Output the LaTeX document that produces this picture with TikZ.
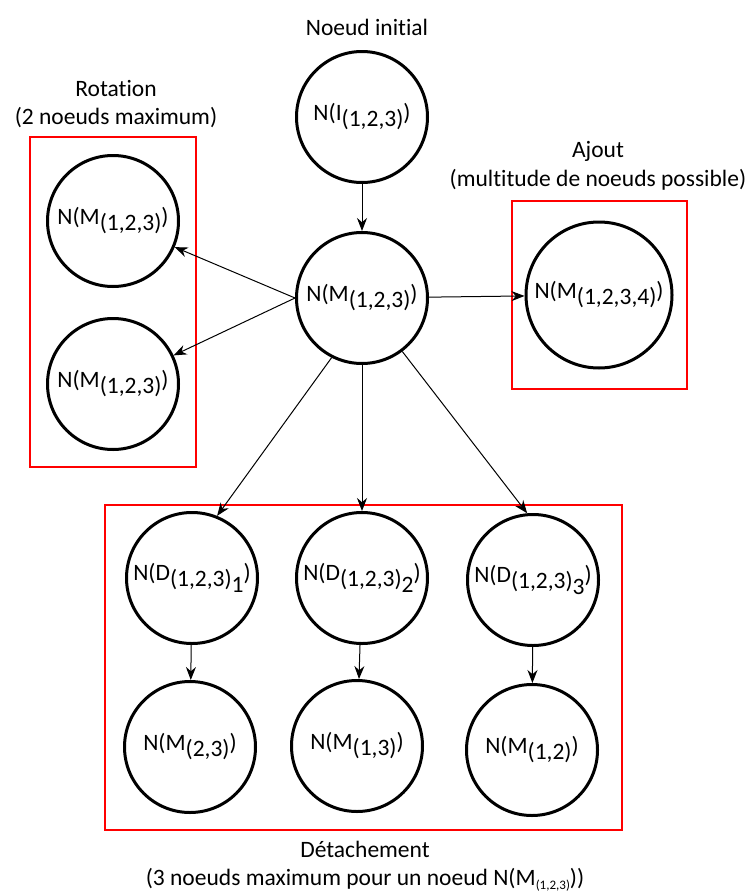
\documentclass[tikz,border=0pt]{standalone}
\usepackage{fontspec}
\setmainfont{Carlito}[Ligatures=NoCommon]
\usetikzlibrary{
  arrows.meta,
  positioning
}
\definecolor{boxred}{RGB}{255,0,0}
\newcommand{\lo}[1]{\raisebox{-6pt}{#1}}
\newcommand{\tinysub}[1]{\raisebox{-4pt}{\fontsize{13}{14}\selectfont #1}}

\begin{document}
\begin{tikzpicture}[x=1pt, y=-1pt,
  etat/.style={circle, draw, line width=3pt, minimum size=131pt, inner sep=0pt,
    font=\fontsize{23.5}{26}\selectfont},
  groupe/.style={draw=boxred, line width=1.8pt},
  lien/.style={-{Stealth[length=13pt, width=10pt]}, line width=1pt},
  legende/.style={font=\fontsize{23.5}{28.5}\selectfont, align=center}]
  \useasboundingbox (0,0) rectangle (750,894);
  % groupes
  \draw[groupe] (30,137) rectangle (196,467);
  \draw[groupe] (512,201) rectangle (687,389);
  \draw[groupe] (105,505) rectangle (622,830);
  % etats
  \node[etat] (init) at (362,117) {N(I\lo{(1,2,3)})};
  \node[etat] (cur) at (362,298) {N(M\lo{(1,2,3)})};
  \node[etat] (rot1) at (113,221) {N(M\lo{(1,2,3)})};
  \node[etat] (rot2) at (113,384) {N(M\lo{(1,2,3)})};
  \node[etat, minimum size=146pt] (ajout) at (599,295) {N(M\lo{(1,2,3,4)})};
  \node[etat] (det1) at (192,578) {N(D\lo{(1,2,3)\lo{1}})};
  \node[etat] (det2) at (362,578) {N(D\lo{(1,2,3)\lo{2}})};
  \node[etat] (det3) at (533,580) {N(D\lo{(1,2,3)\lo{3}})};
  \node[etat] (fin1) at (190,747) {N(M\lo{(2,3)})};
  \node[etat] (fin2) at (357,746) {N(M\lo{(1,3)})};
  \node[etat] (fin3) at (532,750) {N(M\lo{(1,2)})};
  % legendes
  \node[legende] (lbinit) at (367,27) {Noeud initial};
  \node[legende] (lbrot) at (116,104) {Rotation\\(2 noeuds maximum)};
  \node[legende] (lbajout) at (598,166) {Ajout\\(multitude de noeuds possible)};
  \node[legende] (lbdet) at (365,866) {Détachement\\(3 noeuds maximum pour un noeud N(M\tinysub{(1,2,3)}))};
  % liens
  \draw[lien] (init) -- (cur);
  \draw[lien] (cur.west) -- (rot1);
  \draw[lien] (cur.west) -- (rot2);
  \draw[lien] (cur) -- (ajout);
  \draw[lien] (cur.243) -- (det1.68);
  \draw[lien] (cur) -- (det2);
  \draw[lien] (cur.307) -- (det3.95);
  \draw[lien] (det1) -- (fin1);
  \draw[lien] (det2) -- (fin2);
  \draw[lien] (det3) -- (fin3);
\end{tikzpicture}
\end{document}
